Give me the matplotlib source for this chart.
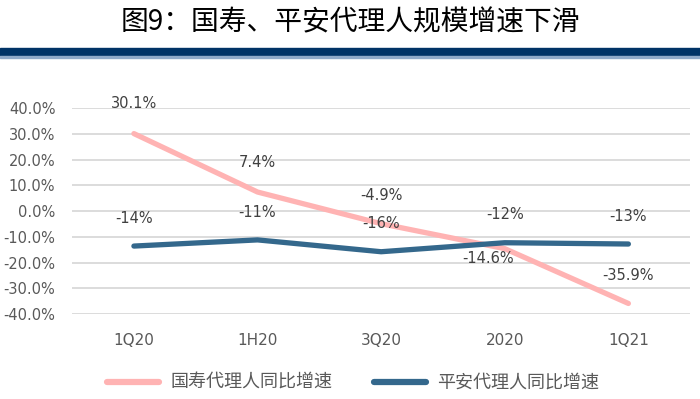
import matplotlib
matplotlib.use('Agg')
import matplotlib.pyplot as plt
from matplotlib.patches import Rectangle
from matplotlib.lines import Line2D

plt.rcParams['font.family'] = ['Noto Sans CJK SC', 'DejaVu Sans']

cats = ['1Q20', '1H20', '3Q20', '2020', '1Q21']
gs = [30.1, 7.4, -4.9, -14.6, -35.9]          # 国寿
pa = [-13.6, -11.2, -15.8, -12.3, -12.8]      # 平安
gs_lbl = ['30.1%', '7.4%', '-4.9%', '-14.6%', '-35.9%']
pa_lbl = ['-14%', '-11%', '-16%', '-12%', '-13%']
yticks = [40, 30, 20, 10, 0, -10, -20, -30, -40]

pink = '#FFB3B3'
blue = '#34688C'
gray = '#595959'

fig = plt.figure(figsize=(7, 3.99), dpi=100)
fig.text(0.5, 0.945, '图9：国寿、平安代理人规模增速下滑', ha='center', va='center',
         fontsize=20, fontweight=500, color='black')
fig.patches.append(Rectangle((0, 1 - 55/399), 1, 7/399, transform=fig.transFigure,
                             color='#003366', zorder=0))
fig.patches.append(Rectangle((0, 1 - 58/399), 1, 1.5/399, transform=fig.transFigure,
                             color='#8FA9C8', zorder=0))

ax = fig.add_axes([0.103, 0.213, 0.883, 0.516])
x = range(len(cats))
ax.plot(x, gs, color=pink, lw=3.8, solid_capstyle='round', zorder=3)
ax.plot(x, pa, color=blue, lw=3.8, solid_capstyle='round', zorder=4)

# label offsets in points (dx, dy)
gs_off = [(0, 22), (0, 21), (0, 20), (-12, -7), (0, 20)]
for i in x:
    ax.annotate(gs_lbl[i], (i, gs[i]), xytext=gs_off[i], textcoords='offset points',
                ha='center', va='center', fontsize=10.5, color='#404040', family='DejaVu Sans')
    ax.annotate(pa_lbl[i], (i, pa[i]), xytext=(0, 20),
                textcoords='offset points', ha='center', va='center',
                fontsize=10.5, color='#404040', family='DejaVu Sans')

ax.set_xlim(-0.5, 4.5)
ax.set_ylim(-40, 40)
ax.set_yticks(yticks)
ax.set_yticklabels([f'{v:.1f}%' for v in yticks], color=gray, fontsize=10.5,
                   family='DejaVu Sans')
ax.set_xticks(list(x))
ax.set_xticklabels(cats, color=gray, fontsize=11, family='DejaVu Sans')
ax.tick_params(length=0, pad=12)
ax.tick_params(axis='x', pad=14)
ax.grid(axis='y', color='#D9D9D9', lw=1.3)
ax.set_axisbelow(True)
for s in ax.spines.values():
    s.set_visible(False)

handles = [Line2D([], [], color=pink, lw=4.5, solid_capstyle='round'),
           Line2D([], [], color=blue, lw=4.5, solid_capstyle='round')]
fig.legend(handles, ['国寿代理人同比增速', '平安代理人同比增速'], loc='center',
           bbox_to_anchor=(0.504, 1 - 383/399), ncol=2, frameon=False,
           fontsize=13, labelcolor=gray, handlelength=2.9, handletextpad=0.6,
           columnspacing=2.3)

fig.savefig('out.png', dpi=100)
